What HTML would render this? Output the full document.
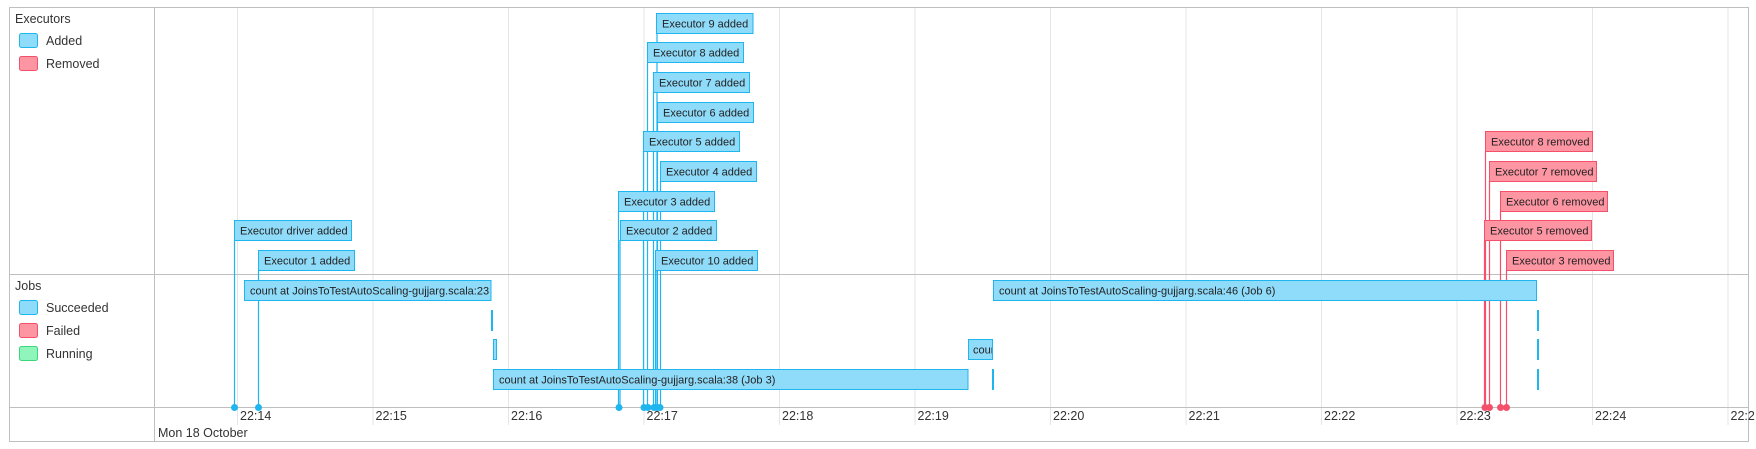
<!DOCTYPE html>
<html><head><meta charset="utf-8"><style>
html,body{margin:0;padding:0;background:#fff;width:1756px;height:449px;overflow:hidden}
svg{display:block;font-family:"Liberation Sans",Arial,sans-serif}
.a{fill:#8fdbfa;stroke:#1fb5ef;stroke-width:1}
.r{fill:#fe95a3;stroke:#f5506a;stroke-width:1}
.g{fill:#90f5bb;stroke:#3ad87a;stroke-width:1}
.t{font-size:11px;fill:#222}
.l{font-size:12.5px;fill:#333}
.al{stroke:#1fb5ef;stroke-width:1.2}
.rl{stroke:#f5506a;stroke-width:1.2}
.grid{stroke:#e5e5e5;stroke-width:1}
</style></head><body>
<svg width="1756" height="449" viewBox="0 0 1756 449">
<defs><clipPath id="c1"><rect x="245" y="280" width="244" height="21"/></clipPath>
<clipPath id="c2"><rect x="968" y="338" width="24" height="21"/></clipPath></defs>
<g class="grid">
<line x1="237.5" y1="7" x2="237.5" y2="425"/><line x1="373" y1="7" x2="373" y2="425"/>
<line x1="508.5" y1="7" x2="508.5" y2="425"/><line x1="644" y1="7" x2="644" y2="425"/>
<line x1="779.5" y1="7" x2="779.5" y2="425"/><line x1="915" y1="7" x2="915" y2="425"/>
<line x1="1050.5" y1="7" x2="1050.5" y2="425"/><line x1="1186" y1="7" x2="1186" y2="425"/>
<line x1="1321.5" y1="7" x2="1321.5" y2="425"/><line x1="1457" y1="7" x2="1457" y2="425"/>
<line x1="1592.5" y1="7" x2="1592.5" y2="425"/><line x1="1728" y1="7" x2="1728" y2="425"/>
</g>
<rect x="9.5" y="7.5" width="1739" height="434" fill="none" stroke="#bfbfbf"/>
<line x1="154.5" y1="7" x2="154.5" y2="442" stroke="#bfbfbf"/>
<line x1="9" y1="274.5" x2="1749" y2="274.5" stroke="#bfbfbf"/>
<line x1="9" y1="407.5" x2="1749" y2="407.5" stroke="#bfbfbf"/>
<text x="15" y="23" class="l">Executors</text>
<rect x="19.5" y="33.5" width="18" height="14" rx="2" class="a"/><text x="46" y="45" class="l">Added</text>
<rect x="19.5" y="56.5" width="18" height="14" rx="2" class="r"/><text x="46" y="68" class="l">Removed</text>
<text x="15" y="290" class="l">Jobs</text>
<rect x="19.5" y="300.5" width="18" height="14" rx="2" class="a"/><text x="46" y="312" class="l">Succeeded</text>
<rect x="19.5" y="323.5" width="18" height="14" rx="2" class="r"/><text x="46" y="335" class="l">Failed</text>
<rect x="19.5" y="346.5" width="18" height="14" rx="2" class="g"/><text x="46" y="358" class="l">Running</text>
<g class="l">
<text x="240" y="420">22:14</text><text x="375.5" y="420">22:15</text><text x="511" y="420">22:16</text>
<text x="646.5" y="420">22:17</text><text x="782" y="420">22:18</text><text x="917.5" y="420">22:19</text>
<text x="1053" y="420">22:20</text><text x="1188.5" y="420">22:21</text><text x="1324" y="420">22:22</text>
<text x="1459.5" y="420">22:23</text><text x="1595" y="420">22:24</text><text x="1730.5" y="420">22:2</text>
<text x="158" y="437">Mon 18 October</text>
</g>
<g class="al">
<line x1="234.5" y1="240" x2="234.5" y2="407"/><line x1="258.5" y1="270" x2="258.5" y2="407"/>
<line x1="618.5" y1="211" x2="618.5" y2="407"/><line x1="620" y1="240" x2="620" y2="407"/>
<line x1="643.5" y1="151" x2="643.5" y2="407"/><line x1="647.5" y1="62" x2="647.5" y2="407"/>
<line x1="653.5" y1="92" x2="653.5" y2="407"/><line x1="655.5" y1="270" x2="655.5" y2="407"/>
<line x1="657" y1="33" x2="657" y2="407"/><line x1="657.5" y1="122" x2="657.5" y2="407"/>
<line x1="660.5" y1="181" x2="660.5" y2="407"/>
</g>
<g fill="#1fb5ef">
<circle cx="234.5" cy="407.5" r="3.5"/><circle cx="258.5" cy="407.5" r="3.5"/>
<circle cx="619" cy="407.5" r="3.5"/><circle cx="644" cy="407.5" r="3.5"/><circle cx="648" cy="407.5" r="3.5"/>
<circle cx="654" cy="407.5" r="3.5"/><circle cx="657" cy="407.5" r="3.5"/><circle cx="660" cy="407.5" r="3.5"/>
</g>
<g class="rl">
<line x1="1484.5" y1="241" x2="1484.5" y2="407"/><line x1="1485.5" y1="152" x2="1485.5" y2="407"/>
<line x1="1489.5" y1="181" x2="1489.5" y2="407"/><line x1="1500.5" y1="211" x2="1500.5" y2="407"/>
<line x1="1506.5" y1="270" x2="1506.5" y2="407"/>
</g>
<g fill="#f5506a">
<circle cx="1485" cy="407.5" r="3.5"/><circle cx="1489.5" cy="407.5" r="3.5"/>
<circle cx="1500.5" cy="407.5" r="3.5"/><circle cx="1506.5" cy="407.5" r="3.5"/>
</g>
<rect x="244.5" y="280.5" width="246.5" height="20" class="a"/>
<text x="250" y="294.5" class="t" clip-path="url(#c1)">count at JoinsToTestAutoScaling-gujjarg.scala:23 (Job 0)</text>
<rect x="491.5" y="310.5" width="1" height="20" class="a"/>
<rect x="493.5" y="339.5" width="3" height="20" class="a"/>
<rect x="493.5" y="369.5" width="474.5" height="20" class="a"/>
<text x="499" y="383.5" class="t">count at JoinsToTestAutoScaling-gujjarg.scala:38 (Job 3)</text>
<rect x="968.5" y="339.5" width="24" height="20" class="a"/>
<text x="973" y="353.5" class="t" clip-path="url(#c2)">count</text>
<rect x="992.5" y="369.5" width="1" height="20" class="a"/>
<rect x="993.5" y="280.5" width="543" height="20" class="a"/>
<text x="999" y="294.5" class="t">count at JoinsToTestAutoScaling-gujjarg.scala:46 (Job 6)</text>
<rect x="1537.5" y="310.5" width="1" height="20" class="a"/>
<rect x="1537.5" y="339.5" width="1" height="20" class="a"/>
<rect x="1537.5" y="369.5" width="1" height="20" class="a"/>
<rect x="234.5" y="220.5" width="117" height="20" class="a"/><text x="240" y="234.5" class="t">Executor driver added</text>
<rect x="258.5" y="250.5" width="96" height="20" class="a"/><text x="264" y="264.5" class="t">Executor 1 added</text>
<rect x="656.5" y="13.5" width="96.5" height="20" class="a"/><text x="662" y="27.5" class="t">Executor 9 added</text>
<rect x="647.5" y="42.5" width="96" height="20" class="a"/><text x="653" y="56.5" class="t">Executor 8 added</text>
<rect x="653.5" y="72.5" width="96" height="20" class="a"/><text x="659" y="86.5" class="t">Executor 7 added</text>
<rect x="657.5" y="102.5" width="96" height="20" class="a"/><text x="663" y="116.5" class="t">Executor 6 added</text>
<rect x="643.5" y="131.5" width="96" height="20" class="a"/><text x="649" y="145.5" class="t">Executor 5 added</text>
<rect x="660.5" y="161.5" width="96" height="20" class="a"/><text x="666" y="175.5" class="t">Executor 4 added</text>
<rect x="618.5" y="191.5" width="96" height="20" class="a"/><text x="624" y="205.5" class="t">Executor 3 added</text>
<rect x="620.5" y="220.5" width="96" height="20" class="a"/><text x="626" y="234.5" class="t">Executor 2 added</text>
<rect x="655.5" y="250.5" width="102" height="20" class="a"/><text x="661" y="264.5" class="t">Executor 10 added</text>
<rect x="1485.5" y="131.5" width="107" height="20" class="r"/><text x="1491" y="145.5" class="t">Executor 8 removed</text>
<rect x="1489.5" y="161.5" width="107" height="20" class="r"/><text x="1495" y="175.5" class="t">Executor 7 removed</text>
<rect x="1500.5" y="191.5" width="107" height="20" class="r"/><text x="1506" y="205.5" class="t">Executor 6 removed</text>
<rect x="1484.5" y="220.5" width="107" height="20" class="r"/><text x="1490" y="234.5" class="t">Executor 5 removed</text>
<rect x="1506.5" y="250.5" width="107" height="20" class="r"/><text x="1512" y="264.5" class="t">Executor 3 removed</text>
</svg>
</body></html>
